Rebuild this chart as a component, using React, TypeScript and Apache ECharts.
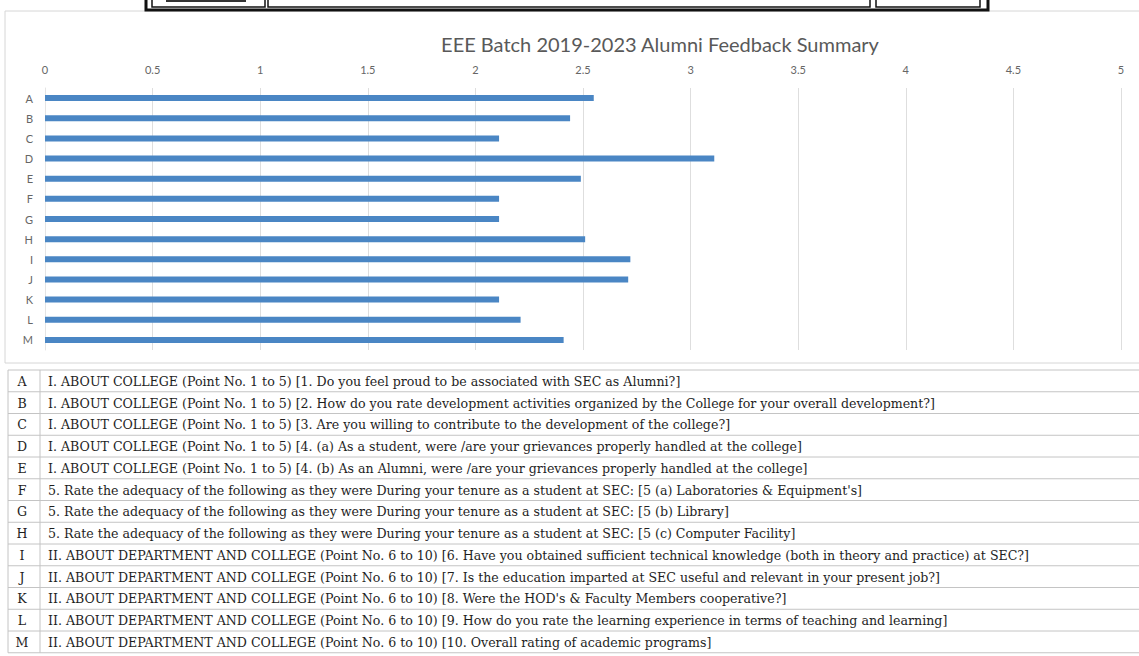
import React, { useEffect, useRef } from "react";
import * as echarts from "echarts";

const categories = ["A", "B", "C", "D", "E", "F", "G", "H", "I", "J", "K", "L", "M"];
const values = [2.55, 2.44, 2.11, 3.11, 2.49, 2.11, 2.11, 2.51, 2.72, 2.71, 2.11, 2.21, 2.41];
const descriptions = [
  "I. ABOUT COLLEGE (Point No. 1 to 5) [1. Do you feel proud to be associated with SEC as Alumni?]",
  "I. ABOUT COLLEGE (Point No. 1 to 5) [2. How do you rate development activities organized by the College for your overall development?]",
  "I. ABOUT COLLEGE (Point No. 1 to 5) [3. Are you willing to contribute to the development of the college?]",
  "I. ABOUT COLLEGE (Point No. 1 to 5) [4. (a) As a student, were /are your grievances properly handled at the college]",
  "I. ABOUT COLLEGE (Point No. 1 to 5) [4. (b) As an Alumni, were /are your grievances properly handled at the college]",
  "5. Rate the adequacy of the following as they were During your tenure as a student at SEC: [5 (a) Laboratories & Equipment's]",
  "5. Rate the adequacy of the following as they were During your tenure as a student at SEC: [5 (b) Library]",
  "5. Rate the adequacy of the following as they were During your tenure as a student at SEC: [5 (c) Computer Facility]",
  "II. ABOUT DEPARTMENT AND COLLEGE (Point No. 6 to 10) [6. Have you obtained sufficient technical knowledge (both in theory and practice) at SEC?]",
  "II. ABOUT DEPARTMENT AND COLLEGE (Point No. 6 to 10) [7. Is the education imparted at SEC useful and relevant in your present job?]",
  "II. ABOUT DEPARTMENT AND COLLEGE (Point No. 6 to 10) [8. Were the HOD's & Faculty Members cooperative?]",
  "II. ABOUT DEPARTMENT AND COLLEGE (Point No. 6 to 10) [9. How do you rate the learning experience in terms of teaching and learning]",
  "II. ABOUT DEPARTMENT AND COLLEGE (Point No. 6 to 10) [10. Overall rating of academic programs]",
];
const titleText = "EEE Batch 2019-2023 Alumni Feedback Summary";

export default function App() {
  const ref = useRef<HTMLDivElement>(null);
  useEffect(() => {
    document.body.style.margin = "0";
    if (!ref.current) return;
    const chart = echarts.init(ref.current, null, { renderer: "svg" });
    const tableTop = 370;
    const rowH = 21.75;
    const lineColor = "#c4c4c4";
    const tableFont = "12.6px 'DejaVu Serif', serif";
    const tableEls: any[] = [];
    for (let i = 0; i <= categories.length; i++) {
      tableEls.push({
        type: "line",
        shape: { x1: 8, y1: tableTop + i * rowH, x2: 1139, y2: tableTop + i * rowH },
        style: { stroke: lineColor, lineWidth: 1 },
      });
    }
    tableEls.push({
      type: "line",
      shape: { x1: 8, y1: tableTop, x2: 8, y2: tableTop + categories.length * rowH },
      style: { stroke: lineColor, lineWidth: 1 },
    });
    tableEls.push({
      type: "line",
      shape: { x1: 40, y1: tableTop, x2: 40, y2: tableTop + categories.length * rowH },
      style: { stroke: lineColor, lineWidth: 1 },
    });
    categories.forEach((c, i) => {
      const yc = tableTop + i * rowH + rowH / 2 + 0.5;
      tableEls.push({
        type: "text",
        x: 22,
        y: yc,
        style: { text: c, fill: "#1e1e1e", font: tableFont, align: "center", verticalAlign: "middle" },
      });
      tableEls.push({
        type: "text",
        x: 48,
        y: yc,
        style: { text: descriptions[i], fill: "#1e1e1e", font: tableFont, align: "left", verticalAlign: "middle" },
      });
    });

    const headerEls: any[] = [
      { type: "rect", shape: { x: 146, y: -6, width: 842, height: 16 }, style: { fill: "#fff", stroke: "#111", lineWidth: 3 } },
      { type: "rect", shape: { x: 152, y: -6, width: 113, height: 13 }, style: { fill: "#fff", stroke: "#111", lineWidth: 1.5 } },
      { type: "rect", shape: { x: 166, y: -4, width: 80, height: 6 }, style: { fill: "#333" } },
      { type: "rect", shape: { x: 268, y: -6, width: 602, height: 13 }, style: { fill: "#fff", stroke: "#111", lineWidth: 1.5 } },
      { type: "rect", shape: { x: 876, y: -6, width: 104, height: 13 }, style: { fill: "#fff", stroke: "#111", lineWidth: 1.5 } },
    ];

    const axisFont = "'Liberation Sans Narrow', Lato, sans-serif";
    chart.setOption({
      animation: false,
      backgroundColor: "#fff",
      title: {
        text: titleText,
        left: 655,
        top: 29,
        textAlign: "center",
        textStyle: { color: "#595959", fontSize: 20, fontWeight: "normal", fontFamily: axisFont },
      },
      grid: { left: 45, right: 18, top: 88, height: 262, containLabel: false },
      xAxis: {
        type: "value",
        position: "top",
        min: 0,
        max: 5,
        interval: 0.5,
        axisLine: { show: false },
        axisTick: { show: false },
        axisLabel: { color: "#666", fontSize: 11, margin: 13, fontFamily: axisFont },
        splitLine: { lineStyle: { color: "#dedede", width: 1 } },
      },
      yAxis: {
        type: "category",
        data: categories,
        inverse: true,
        axisLine: { show: true, lineStyle: { color: "#e4e4e4" } },
        axisTick: { show: false },
        axisLabel: { color: "#666", fontSize: 11, margin: 12, fontFamily: axisFont },
      },
      series: [
        {
          type: "bar",
          data: values,
          barWidth: 6,
          itemStyle: { color: "#4a86c4" },
        },
      ],
      graphic: [
        { type: "rect", shape: { x: 5, y: 11, width: 1140, height: 352 }, style: { fill: "none", stroke: "#d6d6d6", lineWidth: 1 }, silent: true },
        ...headerEls,
        ...tableEls,
      ],
    });
    return () => chart.dispose();
  }, []);
  return <div ref={ref} style={{ width: 1139, height: 656 }} />;
}
